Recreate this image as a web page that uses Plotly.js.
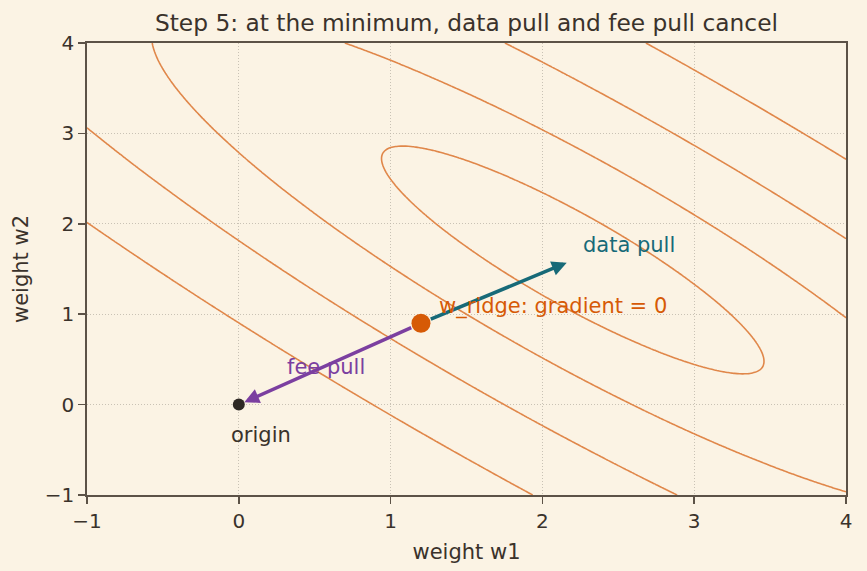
<!DOCTYPE html>
<html>
<head>
<meta charset="utf-8">
<script src="https://cdn.plot.ly/plotly-3.0.1.min.js"></script>
<style>
  html, body { margin: 0; padding: 0; background: #FBF3E4; }
  #chart { width: 867px; height: 571px; }
</style>
</head>
<body>
<div id="chart"></div>
<script>
// Data-fit loss bowl: centre (unpenalised optimum) and curvature matrix
const lossCenter = [2.2, 1.6];
const lossCurvature = [[1.0, 0.89], [0.89, 1.0]];
// Loss levels drawn as contour rings
const contourLevels = [0.33, 1.6, 4.05, 8.05];

// Ridge solution and the origin
const wRidge = [1.2, 0.9];
const originPt = [0, 0];

// End points of the two pulls acting on w_ridge
const dataPullTip = [2.16, 1.57];
const feePullTip = [0, 0];

// Axis ticks
const xTicks = [-1, 0, 1, 2, 3, 4];
const yTicks = [-1, 0, 1, 2, 3, 4];

// Evaluation grid for the loss surface
const gridN = 301;
const gx = [], gy = [];
for (let i = 0; i < gridN; i++) {
  gx.push(-1 + 5 * i / (gridN - 1));
  gy.push(-1 + 5 * i / (gridN - 1));
}
const lossZ = gy.map(y => gx.map(x => {
  const dx = x - lossCenter[0], dy = y - lossCenter[1];
  return lossCurvature[0][0] * dx * dx + 2 * lossCurvature[0][1] * dx * dy + lossCurvature[1][1] * dy * dy;
}));

const ORANGE_LINE = '#E0874A';
const TEAL = '#176A78';
const PURPLE = '#7B3FA0';
const RIDGE = '#D65A06';
const INK = '#3A322B';
const AXIS = '#5C5247';
const BG = '#FBF3E4';
const FONT = 'DejaVu Sans, sans-serif';

const traces = contourLevels.map(lv => ({
  type: 'contour',
  x: gx, y: gy, z: lossZ,
  autocontour: false,
  contours: { start: lv, end: lv, size: 1, coloring: 'none', showlabels: false },
  line: { color: ORANGE_LINE, width: 1.6, smoothing: 1 },
  showscale: false,
  hoverinfo: 'skip'
}));

traces.push({
  type: 'scatter', mode: 'markers',
  x: [originPt[0]], y: [originPt[1]],
  marker: { color: '#2E2925', size: 12 },
  hoverinfo: 'skip'
});
traces.push({
  type: 'scatter', mode: 'markers',
  x: [wRidge[0]], y: [wRidge[1]],
  marker: { color: RIDGE, size: 19 },
  hoverinfo: 'skip'
});

const annotations = [
  {
    x: dataPullTip[0], y: dataPullTip[1], ax: wRidge[0], ay: wRidge[1],
    xref: 'x', yref: 'y', axref: 'x', ayref: 'y',
    text: '', showarrow: true, arrowhead: 2, arrowsize: 0.85, arrowwidth: 3.5,
    arrowcolor: TEAL, startstandoff: 9
  },
  {
    x: feePullTip[0], y: feePullTip[1], ax: wRidge[0], ay: wRidge[1],
    xref: 'x', yref: 'y', axref: 'x', ayref: 'y',
    text: '', showarrow: true, arrowhead: 2, arrowsize: 0.85, arrowwidth: 3.5,
    arrowcolor: PURPLE, standoff: 6, startstandoff: 9
  },
  { x: 2.254, y: 1.765, xref: 'x', yref: 'y', text: 'data pull', showarrow: false,
    xanchor: 'left', yanchor: 'middle', font: { family: FONT, size: 21, color: TEAL } },
  { x: 1.304, y: 1.08, xref: 'x', yref: 'y', text: 'w_ridge: gradient = 0', showarrow: false,
    xanchor: 'left', yanchor: 'middle', font: { family: FONT, size: 21, color: RIDGE } },
  { x: 0.304, y: 0.419, xref: 'x', yref: 'y', text: 'fee pull', showarrow: false,
    xanchor: 'left', yanchor: 'middle', font: { family: FONT, size: 21, color: PURPLE } },
  { x: 0.143, y: -0.336, xref: 'x', yref: 'y', text: 'origin', showarrow: false,
    xanchor: 'center', yanchor: 'middle', font: { family: FONT, size: 21, color: INK } }
];

const axisCommon = {
  range: [-1, 4],
  showline: true, mirror: true, linecolor: AXIS, linewidth: 1.8,
  ticks: 'outside', ticklen: 7, tickwidth: 1.5, tickcolor: AXIS,
  showgrid: true, gridcolor: '#BDB5A9', griddash: '1px,2px', gridwidth: 0.8,
  zeroline: false,
  tickfont: { family: FONT, size: 20, color: INK },
  tickmode: 'array'
};

const layout = {
  width: 867, height: 571,
  margin: { l: 87, r: 21, t: 43, b: 76 },
  paper_bgcolor: BG, plot_bgcolor: BG,
  showlegend: false,
  font: { family: FONT, color: INK },
  title: {
    text: 'Step 5: at the minimum, data pull and fee pull cancel',
    font: { family: FONT, size: 23.3, color: INK },
    x: 0.538, xanchor: 'center', xref: 'container',
    y: 1 - 23 / 571, yanchor: 'middle', yref: 'container'
  },
  xaxis: Object.assign({}, axisCommon, {
    tickvals: xTicks,
    title: { text: 'weight w1', font: { family: FONT, size: 21, color: INK }, standoff: 12 }
  }),
  yaxis: Object.assign({}, axisCommon, {
    tickvals: yTicks,
    title: { text: 'weight w2', font: { family: FONT, size: 21, color: INK }, standoff: 10 }
  }),
  annotations: annotations
};

Plotly.newPlot('chart', traces, layout, { displayModeBar: false, staticPlot: true });
</script>
</body>
</html>
